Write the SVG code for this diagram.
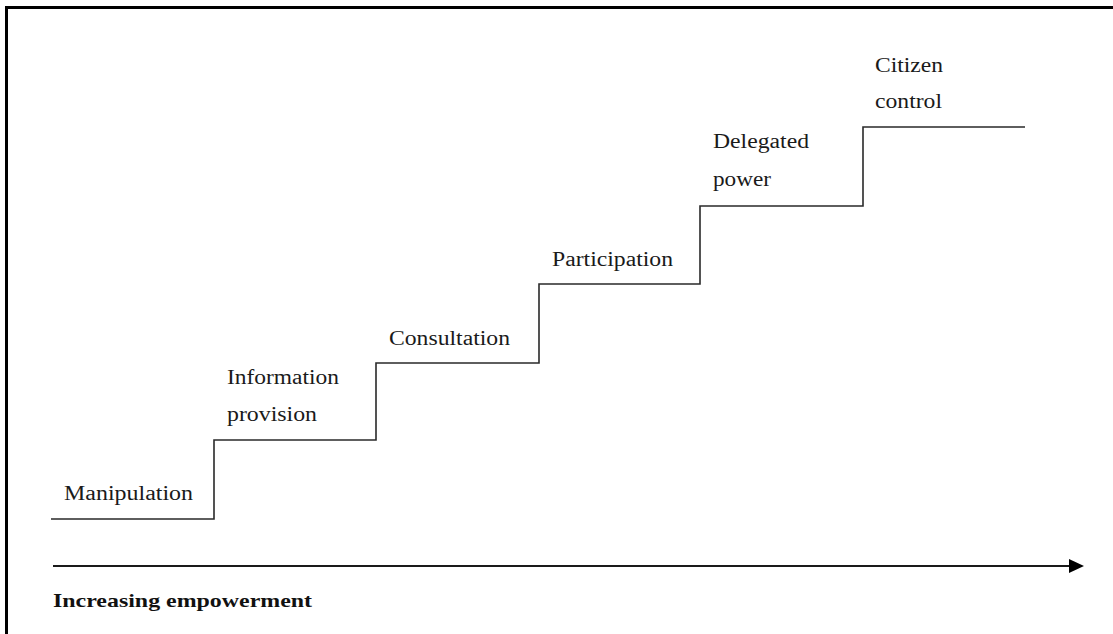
<svg xmlns="http://www.w3.org/2000/svg" width="1113" height="634" viewBox="0 0 1113 634">
  <style>
    .lbl { font-family: "Liberation Serif", "Times New Roman", serif; font-size: 20px; fill: #1a1a1a; }
    .axis-lbl { font-family: "Liberation Serif", "Times New Roman", serif; font-size: 19px; font-weight: bold; fill: #111; }
    .stair { fill: none; stroke: #2a2a2a; stroke-width: 1.6; }
    .axis { stroke: #1a1a1a; stroke-width: 1.8; }
  </style>
  <defs>
    <marker id="arrowhead" markerUnits="userSpaceOnUse" markerWidth="16" markerHeight="14" refX="0" refY="7" orient="auto">
      <polygon points="0,0 15,7 0,14" fill="#000"/>
    </marker>
  </defs>
  <rect width="1113" height="634" fill="#fff"/>

  <!-- frame: top and left edges -->
  <g id="frame" fill="#000">
    <rect x="5" y="6" width="1108" height="3"/>
    <rect x="5" y="6" width="3" height="628"/>
  </g>

  <!-- staircase treads and risers, plus the empowerment axis -->
  <g id="connectors">
    <path class="stair" d="M51,519 H214 V440 H376 V363 H539 V284 H700 V206 H863 V127 H1025"/>
    <line class="axis" x1="53" y1="566" x2="1069" y2="566" marker-end="url(#arrowhead)"/>
  </g>

  <g id="step-manipulation">
    <text class="lbl" x="64" y="500" textLength="129" lengthAdjust="spacingAndGlyphs">Manipulation</text>
  </g>
  <g id="step-information">
    <text class="lbl" x="227" y="384" textLength="112" lengthAdjust="spacingAndGlyphs">Information</text>
    <text class="lbl" x="227" y="421" textLength="90" lengthAdjust="spacingAndGlyphs">provision</text>
  </g>
  <g id="step-consultation">
    <text class="lbl" x="389" y="345" textLength="121" lengthAdjust="spacingAndGlyphs">Consultation</text>
  </g>
  <g id="step-participation">
    <text class="lbl" x="552" y="266" textLength="121" lengthAdjust="spacingAndGlyphs">Participation</text>
  </g>
  <g id="step-delegated">
    <text class="lbl" x="713" y="148" textLength="96" lengthAdjust="spacingAndGlyphs">Delegated</text>
    <text class="lbl" x="713" y="186" textLength="58" lengthAdjust="spacingAndGlyphs">power</text>
  </g>
  <g id="step-citizen">
    <text class="lbl" x="875" y="72" textLength="68" lengthAdjust="spacingAndGlyphs">Citizen</text>
    <text class="lbl" x="875" y="108" textLength="67" lengthAdjust="spacingAndGlyphs">control</text>
  </g>
  <g id="axis-label">
    <text class="axis-lbl" x="53" y="607" textLength="259" lengthAdjust="spacingAndGlyphs">Increasing empowerment</text>
  </g>
</svg>
